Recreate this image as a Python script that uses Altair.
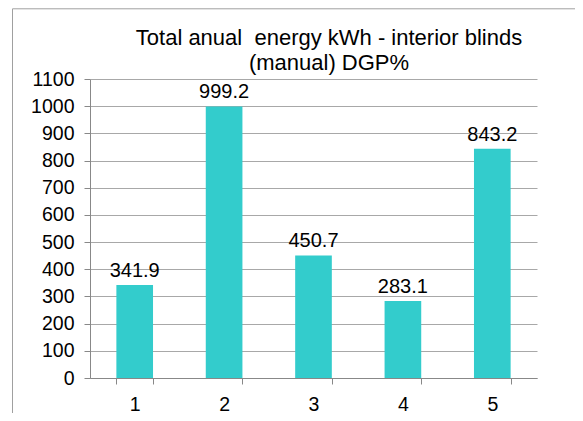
import altair as alt
import pandas as pd

categories = ["1", "2", "3", "4", "5"]
values = [341.9, 999.2, 450.7, 283.1, 843.2]
labels = ["341.9", "999.2", "450.7", "283.1", "843.2"]
y_ticks = list(range(0, 1101, 100))
title_lines = ["Total anual\u00a0 energy kWh - interior blinds", "(manual) DGP%"]

df = pd.DataFrame({"cat": categories, "val": values, "lab": labels})

FONT = "Liberation Sans"
AXIS_GRAY = "#888888"

x_enc = alt.X("cat:N", sort=categories, title=None,
              scale=alt.Scale(paddingInner=0.59, paddingOuter=0.295),
              axis=alt.Axis(labelAngle=0, tickBand="extent", domainColor=AXIS_GRAY,
                            tickColor=AXIS_GRAY, tickSize=6, labelFontSize=19.5,
                            labelFont=FONT, labelColor="black", labelPadding=11,
                            grid=False))
y_enc = alt.Y("val:Q", title=None,
              scale=alt.Scale(domain=[0, 1100], nice=False),
              axis=alt.Axis(values=y_ticks, format="d", labelOverlap=False,
                            tickCount=12,
                            domainColor=AXIS_GRAY, tickColor=AXIS_GRAY,
                            tickSize=6, gridColor="#A8A8A8", labelFontSize=19.5,
                            labelFont=FONT, labelColor="black", labelPadding=10))

base = alt.Chart(df)

bars = base.mark_bar(color="#33CCCC").encode(x=x_enc, y=y_enc)

text = base.mark_text(dy=-8, baseline="alphabetic", fontSize=20, font=FONT,
                      color="black").encode(x=x_enc, y=y_enc, text="lab:N")

title1 = alt.Chart(pd.DataFrame({"t": [title_lines[0]]})).mark_text(
    fontSize=22, font=FONT, color="black", baseline="alphabetic", align="center"
).encode(x=alt.value(239), y=alt.value(-34.5), text="t:N")
title2 = alt.Chart(pd.DataFrame({"t": [title_lines[1]]})).mark_text(
    fontSize=22, font=FONT, color="black", baseline="alphabetic", align="center"
).encode(x=alt.value(239), y=alt.value(-9.5), text="t:N")

border_top = alt.Chart(pd.DataFrame({"k": [0]})).mark_rule(
    color="#A0A0A0", strokeWidth=1
).encode(x=alt.value(-77.5), x2=alt.value(500), y=alt.value(-70.2))
border_left = alt.Chart(pd.DataFrame({"k": [0]})).mark_rule(
    color="#A0A0A0", strokeWidth=1
).encode(x=alt.value(-77.5), y=alt.value(-70.2), y2=alt.value(345))

chart = alt.layer(bars, text, title1, title2, border_top, border_left).properties(
    width=447,
    height=299,
    autosize=alt.AutoSizeParams(type="none"),
    padding={"left": 82, "top": 71, "right": 38, "bottom": 35},
).configure_view(stroke=None)

chart.save("out.html", embed_options={"renderer": "svg", "actions": False})
